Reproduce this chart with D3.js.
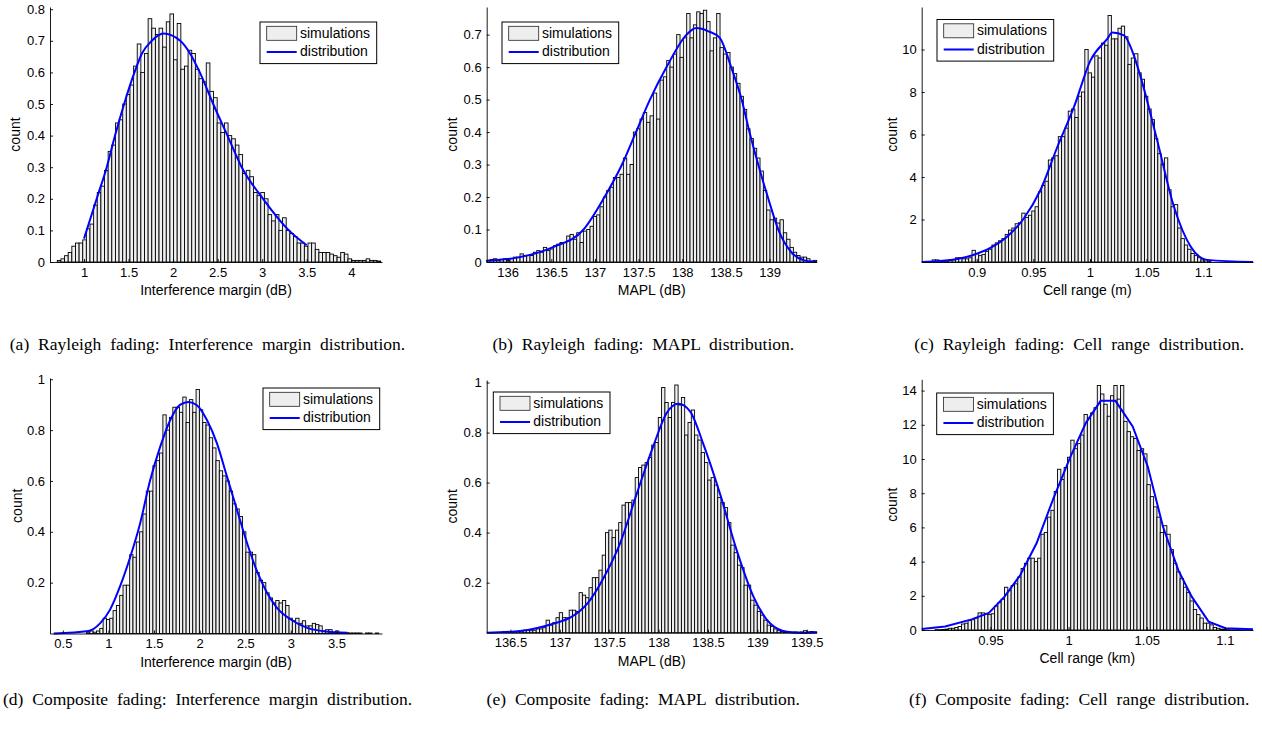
<!DOCTYPE html>
<html>
<head>
<meta charset="utf-8">
<script src="https://cdn.jsdelivr.net/npm/d3@7"></script>
<style>
  body { margin: 0; background: #fff; }
  svg { display: block; font-family: "Liberation Sans", Arial, Helvetica, sans-serif; }
  .caption { font-family: "Liberation Serif", "Times New Roman", serif; font-size: 17.5px; word-spacing: 4.5px; }
</style>
</head>
<body>
<svg id="chart" width="1262" height="729"></svg>
<script>
// (a) Rayleigh fading: interference margin
const marginRayleighRange = [0.70, 4.33];
const marginRayleighCounts = [
  0.005, 0.01, 0.02, 0.03, 0.05, 0.06, 0.06, 0.07, 0.105, 0.12,
  0.18, 0.22, 0.24, 0.29, 0.35, 0.37, 0.44, 0.45, 0.50, 0.53,
  0.56, 0.62, 0.69, 0.60, 0.66, 0.77, 0.74, 0.72, 0.74, 0.68,
  0.76, 0.785, 0.64, 0.755, 0.61, 0.62, 0.67, 0.66, 0.61, 0.58,
  0.57, 0.63, 0.54, 0.52, 0.44, 0.41, 0.44, 0.40, 0.39, 0.37,
  0.34, 0.28, 0.29, 0.27, 0.22, 0.21, 0.22, 0.20, 0.15, 0.13,
  0.15, 0.10, 0.14, 0.10, 0.09, 0.08, 0.06, 0.06, 0.05, 0.06,
  0.06, 0.04, 0.03, 0.03, 0.03, 0.025, 0.02, 0.015, 0.03, 0.025,
  0.01, 0.005, 0.005, 0.005, 0.005, 0.01, 0.005, 0.005, 0.003
];
const marginRayleighCurveX = [1.0, 1.142, 1.255, 1.348, 1.45, 1.566, 1.65, 1.76, 1.89, 2.08, 2.19, 2.30, 2.45, 2.61, 2.77, 3.01, 3.30, 3.5];
const marginRayleighCurveY = [0.074, 0.2, 0.3, 0.4, 0.5, 0.6, 0.66, 0.7, 0.723, 0.7, 0.66, 0.6, 0.5, 0.4, 0.3, 0.2, 0.1, 0.053];
const marginRayleighXTicks = [1, 1.5, 2, 2.5, 3, 3.5, 4];
const marginRayleighYTicks = [0, 0.1, 0.2, 0.3, 0.4, 0.5, 0.6, 0.7, 0.8];

// (b) Rayleigh fading: MAPL
const maplRayleighRange = [135.76, 139.54];
const maplRayleighCounts = [
  0.005, 0.008, 0.01, 0.005, 0.008, 0.01, 0.005, 0.01, 0.015, 0.015,
  0.025, 0.02, 0.02, 0.02, 0.03, 0.035, 0.03, 0.045, 0.035, 0.04,
  0.05, 0.055, 0.06, 0.06, 0.08, 0.085, 0.07, 0.09, 0.06, 0.095,
  0.10, 0.11, 0.14, 0.145, 0.17, 0.20, 0.22, 0.23, 0.26, 0.26,
  0.27, 0.32, 0.27, 0.30, 0.40, 0.41, 0.44, 0.46, 0.43, 0.45,
  0.52, 0.44, 0.56, 0.57, 0.62, 0.60, 0.64, 0.70, 0.63, 0.69,
  0.765, 0.69, 0.73, 0.77, 0.765, 0.775, 0.74, 0.65, 0.69, 0.765,
  0.66, 0.64, 0.645, 0.60, 0.58, 0.55, 0.51, 0.47, 0.41, 0.38,
  0.35, 0.32, 0.28, 0.22, 0.16, 0.13, 0.135, 0.12, 0.13, 0.09,
  0.07, 0.045, 0.03, 0.02, 0.015, 0.015, 0.01, 0.003, 0.005
];
const maplRayleighCurveX = [135.76, 136.14, 136.52, 136.87, 137.11, 137.31, 137.47, 137.63, 137.82, 138.05, 138.16, 138.3, 138.43, 138.56, 138.68, 138.77, 138.87, 138.98, 139.10, 139.25, 139.4, 139.54];
const maplRayleighCurveY = [0.004, 0.015, 0.046, 0.1, 0.2, 0.3, 0.4, 0.5, 0.6, 0.7, 0.72, 0.71, 0.69, 0.6, 0.5, 0.4, 0.3, 0.2, 0.1, 0.03, 0.005, 0];
const maplRayleighXTicks = [136, 136.5, 137, 137.5, 138, 138.5, 139];
const maplRayleighYTicks = [0, 0.1, 0.2, 0.3, 0.4, 0.5, 0.6, 0.7];

// (c) Rayleigh fading: cell range
const rangeRayleighRange = [0.8519, 1.1449];
const rangeRayleighCounts = [
  0.02, 0.02, 0.02, 0.1, 0.1, 0.05, 0.05, 0.05, 0.1, 0.1,
  0.2, 0.2, 0.15, 0.15, 0.2, 0.55, 0.4, 0.3, 0.35, 0.5,
  0.6, 0.8, 0.9, 1.0, 1.1, 1.3, 1.5, 1.6, 1.8, 1.85,
  2.3, 2.1, 2.2, 2.4, 2.6, 3.3, 3.6, 3.8, 4.8, 4.9,
  5.0, 5.9, 5.9, 6.3, 7.1, 7.2, 6.8, 7.8, 8.0, 10.0,
  8.9, 8.7, 9.7, 9.6, 10.3, 10.2, 11.6, 10.5, 10.5, 11.0,
  11.1, 10.6, 9.3, 9.6, 9.8, 8.9, 8.6, 7.8, 7.2, 6.7,
  5.8, 5.1, 4.6, 4.9, 3.4, 2.6, 2.7, 1.6, 1.1, 0.8,
  0.6, 0.4, 0.3, 0.2, 0.1, 0.1, 0.05, 0, 0, 0,
  0, 0, 0, 0, 0, 0, 0, 0, 0, 0
];
const rangeRayleighCurveX = [0.8514, 0.8828, 0.8975, 0.912, 0.927, 0.9417, 0.9564, 0.9711, 0.9859, 1.0006, 1.0153, 1.0197, 1.03, 1.0389, 1.0448, 1.0595, 1.0742, 1.0889, 1.1037, 1.144];
const rangeRayleighCurveY = [0, 0.14, 0.34, 0.66, 1.2, 2.06, 3.4, 5.4, 7.3, 9.5, 10.5, 10.8, 10.66, 9.7, 8.7, 5.7, 2.6, 0.73, 0.1, 0];
const rangeRayleighXTicks = [0.9, 0.95, 1, 1.05, 1.1];
const rangeRayleighYTicks = [2, 4, 6, 8, 10];

// (d) Composite fading: interference margin
const marginCompositeRange = [0.359, 4.0];
const marginCompositeCounts = [
  0, 0, 0, 0, 0, 0, 0, 0, 0, 0, 0,
  0.005, 0.01, 0.005, 0.01, 0.02, 0.06, 0.055, 0.06, 0.09, 0.11,
  0.15, 0.19, 0.19, 0.31, 0.30, 0.36, 0.40, 0.47, 0.56, 0.56,
  0.66, 0.68, 0.71, 0.86, 0.80, 0.85, 0.89, 0.89, 0.87, 0.93,
  0.83, 0.92, 0.87, 0.96, 0.88, 0.83, 0.82, 0.77, 0.73, 0.68,
  0.64, 0.62, 0.60, 0.56, 0.51, 0.49, 0.46, 0.40, 0.32, 0.32,
  0.31, 0.24, 0.21, 0.20, 0.16, 0.14, 0.12, 0.13, 0.12, 0.13,
  0.11, 0.06, 0.05, 0.06, 0.04, 0.05, 0.03, 0.03, 0.04, 0.035,
  0.03, 0.01, 0.015, 0.015, 0.005, 0.01, 0.003, 0.003, 0.003,
  0.002, 0.002, 0.002, 0.002, 0, 0.002, 0.002, 0, 0.002, 0
];
const marginCompositeCurveX = [0.40, 0.78, 0.908, 1.018, 1.128, 1.238, 1.348, 1.458, 1.568, 1.678, 1.788, 1.879, 1.97, 2.08, 2.19, 2.30, 2.41, 2.52, 2.63, 2.74, 2.85, 3.0, 3.18, 3.36, 3.62];
const marginCompositeCurveY = [0, 0.01, 0.04, 0.094, 0.186, 0.30, 0.434, 0.604, 0.735, 0.84, 0.90, 0.911, 0.898, 0.84, 0.748, 0.617, 0.486, 0.356, 0.244, 0.159, 0.10, 0.055, 0.022, 0.009, 0.003];
const marginCompositeXTicks = [0.5, 1, 1.5, 2, 2.5, 3, 3.5];
const marginCompositeYTicks = [0.2, 0.4, 0.6, 0.8, 1];

// (e) Composite fading: MAPL
const maplCompositeRange = [136.26, 139.60];
const maplCompositeCounts = [
  0, 0, 0, 0, 0,
  0.005, 0.003, 0.003, 0.005, 0.005, 0.008, 0.01, 0.01, 0.008, 0.01,
  0.015, 0.015, 0.02, 0.05, 0.03, 0.04, 0.06, 0.08, 0.06, 0.06,
  0.09, 0.09, 0.085, 0.16, 0.15, 0.14, 0.18, 0.22, 0.22, 0.25,
  0.31, 0.40, 0.41, 0.38, 0.41, 0.44, 0.51, 0.52, 0.52, 0.53,
  0.62, 0.66, 0.67, 0.68, 0.70, 0.75, 0.76, 0.86, 0.98, 0.92,
  0.86, 0.92, 0.99, 0.91, 0.94, 0.79, 0.84, 0.89, 0.79, 0.77,
  0.72, 0.68, 0.61, 0.62, 0.59, 0.54, 0.52, 0.50, 0.44, 0.35,
  0.32, 0.27, 0.26, 0.19, 0.19, 0.13, 0.11, 0.085, 0.07, 0.05,
  0.03, 0.025, 0.015, 0.008, 0.005, 0.003, 0.003, 0.002, 0.003, 0.002,
  0.003, 0.008, 0.003, 0.005, 0.003
];
const maplCompositeCurveX = [136.26, 136.6, 136.94, 137.11, 137.28, 137.44, 137.61, 137.78, 137.95, 138.08, 138.2, 138.32, 138.45, 138.62, 138.79, 138.96, 139.13, 139.30, 139.43, 139.60];
const maplCompositeCurveY = [0, 0.007, 0.037, 0.061, 0.117, 0.217, 0.357, 0.557, 0.75, 0.877, 0.915, 0.884, 0.757, 0.557, 0.33, 0.144, 0.037, 0.004, 0, 0.002];
const maplCompositeXTicks = [136.5, 137, 137.5, 138, 138.5, 139, 139.5];
const maplCompositeYTicks = [0.2, 0.4, 0.6, 0.8, 1];

// (f) Composite fading: cell range
const rangeCompositeRange = [0.906, 1.118];
const rangeCompositeCounts = [
  0, 0, 0, 0, 0.02, 0.02, 0.03,
  0.05, 0.1, 0.1, 0.15, 0.2, 0.35, 0.4, 0.55, 0.6, 0.7,
  1.0, 1.0, 0.95, 0.9, 0.95, 1.4, 1.6, 1.8, 2.5, 2.3,
  2.6, 2.7, 3.1, 3.6, 3.9, 4.2, 4.2, 4.0, 4.2, 5.6,
  5.7, 6.6, 7.0, 8.1, 9.4, 8.8, 9.5, 10.1, 11.1, 10.6,
  10.9, 11.4, 12.6, 12.4, 12.7, 13.0, 14.3, 13.8, 13.2, 12.5,
  13.7, 14.3, 13.5, 14.3, 12.2, 11.6, 11.3, 11.2, 10.5, 10.6,
  10.3, 8.5, 7.8, 7.2, 6.6, 5.7, 6.1, 5.6, 4.7, 3.9,
  3.4, 3.0, 2.5, 2.2, 1.7, 1.2, 0.9, 0.7, 0.4, 0.4,
  0.3, 0.15, 0.1, 0.05, 0.03, 0.02, 0.01, 0.01, 0.02, 0.01,
  0, 0, 0
];
const rangeCompositeCurveX = [0.906, 0.921, 0.938, 0.949, 0.959, 0.969, 0.9795, 0.9903, 1.001, 1.011, 1.0205, 1.030, 1.041, 1.0507, 1.0604, 1.0702, 1.0788, 1.0896, 1.1004, 1.118];
const rangeCompositeCurveY = [0.06, 0.2, 0.62, 1.0, 1.95, 3.2, 5.07, 7.7, 10.1, 12.1, 13.4, 13.4, 11.9, 9.55, 6.04, 3.5, 1.95, 0.49, 0.1, 0.04];
const rangeCompositeXTicks = [0.95, 1, 1.05, 1.1];
const rangeCompositeYTicks = [0, 2, 4, 6, 8, 10, 12, 14];

const legendLabels = ["simulations", "distribution"];

// panel layout (pixels) + which data to use
const panels = [
  { left: 50, right: 382, top: 7, bottom: 262, xDomain: [0.618, 4.345], yMax: 0.807,
    range: marginRayleighRange, counts: marginRayleighCounts, cx: marginRayleighCurveX, cy: marginRayleighCurveY,
    xTicks: marginRayleighXTicks, yTicks: marginRayleighYTicks, xLabel: "Interference margin (dB)", yLabelOff: 30,
    legend: [260, 22], caption: "(a) Rayleigh fading: Interference margin distribution.", capX: 207.5, capY: 350 },
  { left: 486.7, right: 816.7, top: 7, bottom: 262, xDomain: [135.76, 139.54], yMax: 0.785,
    range: maplRayleighRange, counts: maplRayleighCounts, cx: maplRayleighCurveX, cy: maplRayleighCurveY,
    xTicks: maplRayleighXTicks, yTicks: maplRayleighYTicks, xLabel: "MAPL (dB)", yLabelOff: 30,
    legend: [502, 22], caption: "(b) Rayleigh fading: MAPL distribution.", capX: 643.3, capY: 350 },
  { left: 921.7, right: 1253, top: 7, bottom: 262, xDomain: [0.8514, 1.144], yMax: 12,
    range: rangeRayleighRange, counts: rangeRayleighCounts, cx: rangeRayleighCurveX, cy: rangeRayleighCurveY,
    xTicks: rangeRayleighXTicks, yTicks: rangeRayleighYTicks, xLabel: "Cell range (m)", yLabelOff: 25,
    legend: [937, 19.5], caption: "(c) Rayleigh fading: Cell range distribution.", capX: 1079.2, capY: 350 },
  { left: 50, right: 382, top: 378, bottom: 633.5, xDomain: [0.359, 4.0], yMax: 1.005,
    range: marginCompositeRange, counts: marginCompositeCounts, cx: marginCompositeCurveX, cy: marginCompositeCurveY,
    xTicks: marginCompositeXTicks, yTicks: marginCompositeYTicks, xLabel: "Interference margin (dB)", yLabelOff: 28,
    legend: [263, 388], caption: "(d) Composite fading: Interference margin distribution.", capX: 207.5, capY: 705 },
  { left: 486.7, right: 816.7, top: 380, bottom: 632.7, xDomain: [136.26, 139.60], yMax: 1.01,
    range: maplCompositeRange, counts: maplCompositeCounts, cx: maplCompositeCurveX, cy: maplCompositeCurveY,
    xTicks: maplCompositeXTicks, yTicks: maplCompositeYTicks, xLabel: "MAPL (dB)", yLabelOff: 30,
    legend: [493.3, 392], caption: "(e) Composite fading: MAPL distribution.", capX: 643.3, capY: 705 },
  { left: 921.7, right: 1253, top: 379.3, bottom: 630, xDomain: [0.906, 1.118], yMax: 14.66, linear: true,
    range: rangeCompositeRange, counts: rangeCompositeCounts, cx: rangeCompositeCurveX, cy: rangeCompositeCurveY,
    xTicks: rangeCompositeXTicks, yTicks: rangeCompositeYTicks, xLabel: "Cell range (km)", yLabelOff: 25,
    legend: [936.7, 393], caption: "(f) Composite fading: Cell range distribution.", capX: 1079.2, capY: 705 },
];

let svg = d3.select("#chart");

function drawPanel(p) {
  let x = d3.scaleLinear().domain(p.xDomain).range([p.left, p.right]);
  let y = d3.scaleLinear().domain([0, p.yMax]).range([p.bottom, p.top]);
  let g = svg.append("g");

  // histogram bars
  let bw = (p.range[1] - p.range[0]) / p.counts.length;
  g.selectAll("rect.bar")
    .data(p.counts)
    .join("rect")
    .attr("class", "bar")
    .attr("x", (d, i) => x(p.range[0] + i * bw))
    .attr("width", x(p.range[0] + bw) - x(p.range[0]))
    .attr("y", (d) => y(d))
    .attr("height", (d) => y(0) - y(d))
    .attr("fill", "#f0f0f0")
    .attr("stroke", "#000")
    .attr("stroke-width", 0.9);

  // fitted distribution
  let line = d3
    .line()
    .x((d) => x(d[0]))
    .y((d) => y(d[1]))
    .curve(p.linear ? d3.curveLinear : d3.curveMonotoneX);
  g.append("path")
    .datum(d3.zip(p.cx, p.cy))
    .attr("d", line)
    .attr("fill", "none")
    .attr("stroke", "#0000ff")
    .attr("stroke-width", 2);

  // axes, ticks inside like matlab
  let fmt = (d) => String(d);
  let xAxis = g
    .append("g")
    .attr("transform", `translate(0,${p.bottom})`)
    .call(d3.axisBottom(x).tickValues(p.xTicks).tickFormat(fmt).tickSizeInner(-3).tickSizeOuter(0).tickPadding(5.5));
  let yAxis = g
    .append("g")
    .attr("transform", `translate(${p.left},0)`)
    .call(d3.axisLeft(y).tickValues(p.yTicks).tickFormat(fmt).tickSizeInner(-3).tickSizeOuter(0).tickPadding(5));
  [xAxis, yAxis].forEach((a) => {
    a.attr("font-size", 13).attr("font-family", "Liberation Sans, Arial, sans-serif");
    a.selectAll("path, line").attr("stroke", "#000").attr("stroke-width", 0.9);
    a.selectAll("text").attr("fill", "#000");
  });

  g.append("text")
    .attr("x", (p.left + p.right) / 2)
    .attr("y", p.bottom + 33)
    .attr("text-anchor", "middle")
    .attr("font-size", 14)
    .text(p.xLabel);

  g.append("text")
    .attr("transform", `translate(${p.left - p.yLabelOff},${(p.top + p.bottom) / 2}) rotate(-90)`)
    .attr("text-anchor", "middle")
    .attr("font-size", 14)
    .text("count");

  // legend
  let [lx, ly] = p.legend;
  let lg = g.append("g").attr("transform", `translate(${lx},${ly})`);
  lg.append("rect").attr("width", 116.7).attr("height", 41.6)
    .attr("fill", "#fff").attr("stroke", "#000").attr("stroke-width", 1);
  lg.append("rect").attr("x", 6.7).attr("y", 4.3).attr("width", 30).attr("height", 14)
    .attr("fill", "#eeeeee").attr("stroke", "#222").attr("stroke-width", 0.8);
  lg.append("line").attr("x1", 6.7).attr("x2", 36.7).attr("y1", 30).attr("y2", 30)
    .attr("stroke", "#0000ff").attr("stroke-width", 2);
  lg.selectAll("text.leg")
    .data(legendLabels)
    .join("text")
    .attr("class", "leg")
    .attr("x", 40)
    .attr("y", (d, i) => 15.8 + i * 18.6)
    .attr("font-size", 14)
    .text((d) => d);

  svg.append("text")
    .attr("class", "caption")
    .attr("x", p.capX)
    .attr("y", p.capY)
    .attr("text-anchor", "middle")
    .text(p.caption);
}

panels.forEach(drawPanel);
</script>
</body>
</html>
